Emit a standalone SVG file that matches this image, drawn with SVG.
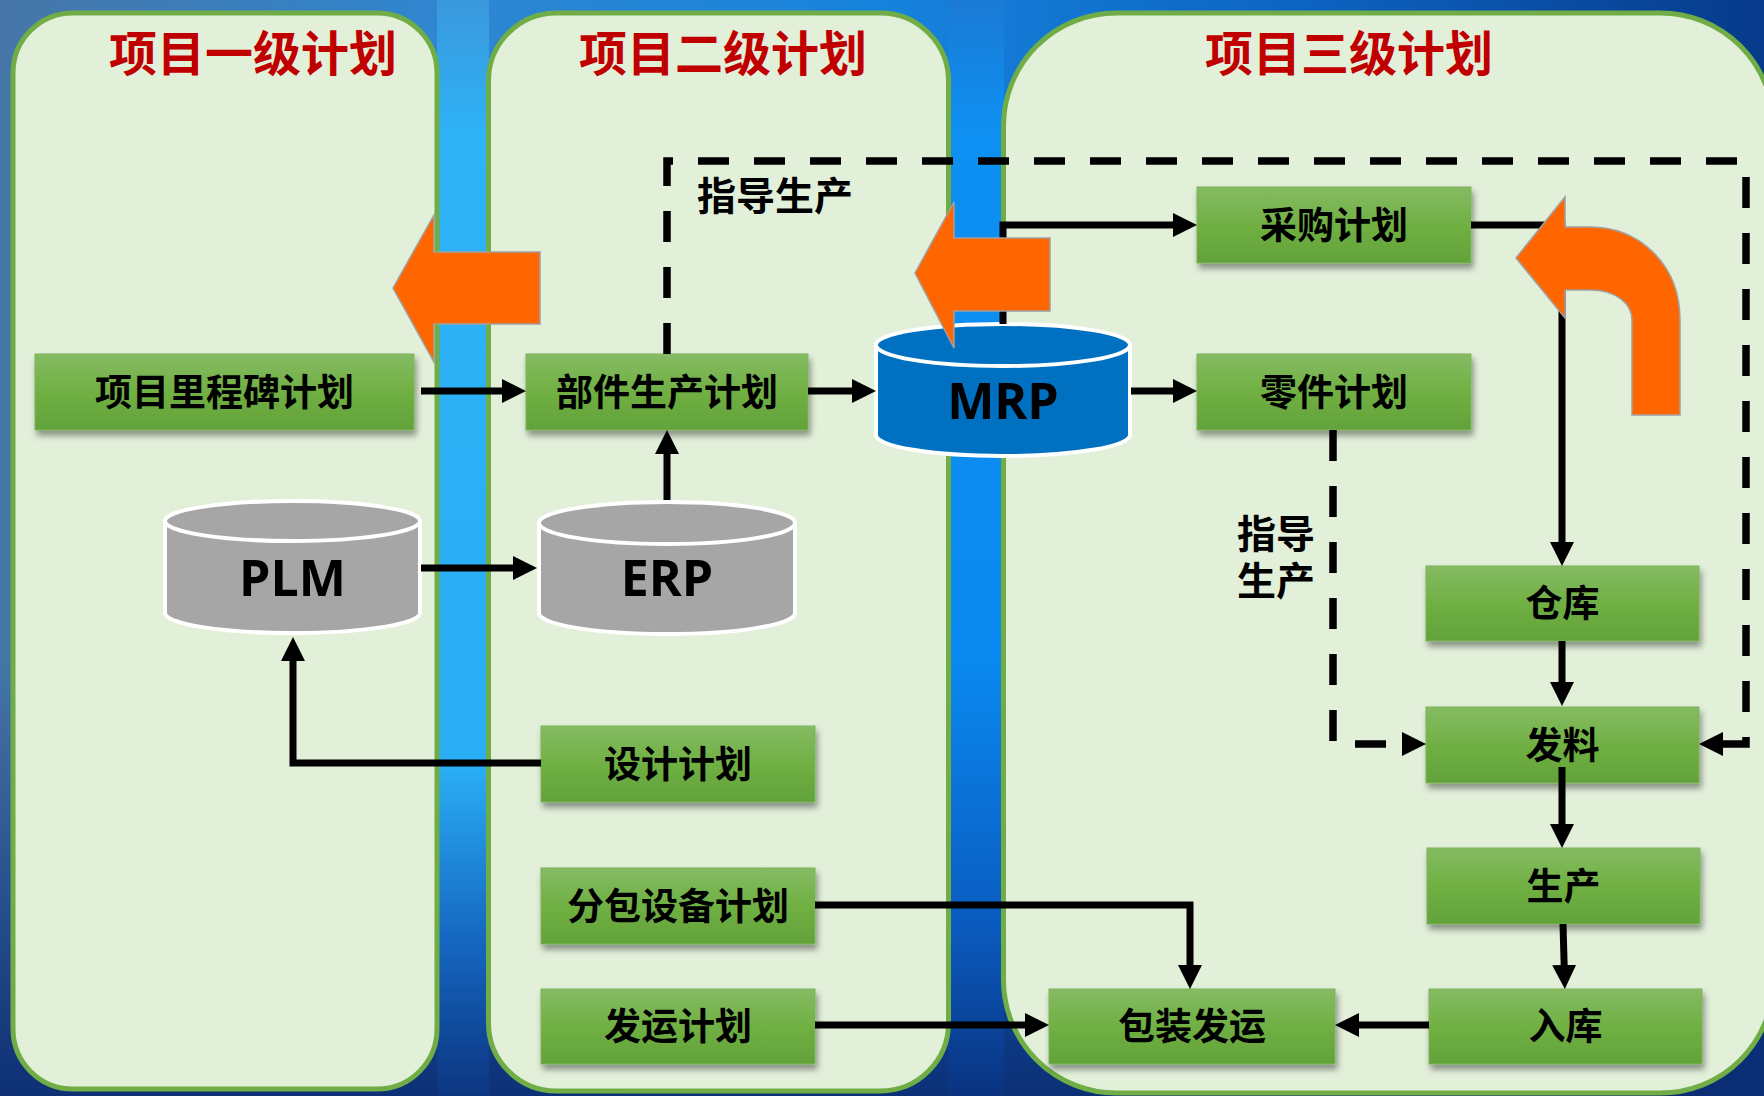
<svg xmlns="http://www.w3.org/2000/svg" width="1764" height="1096" viewBox="0 0 1764 1096">
<defs>
  <linearGradient id="bgH" x1="0" y1="0" x2="1" y2="0">
    <stop offset="0" stop-color="#4676a8"/>
    <stop offset="0.25" stop-color="#2f86d0"/>
    <stop offset="0.5" stop-color="#1683dd"/>
    <stop offset="0.75" stop-color="#0c62c0"/>
    <stop offset="1" stop-color="#073a8a"/>
  </linearGradient>
  <linearGradient id="bgV" x1="0" y1="0" x2="0" y2="1">
    <stop offset="0" stop-color="#0b2c72" stop-opacity="0"/>
    <stop offset="0.6" stop-color="#0b2c72" stop-opacity="0"/>
    <stop offset="1" stop-color="#0b2c72" stop-opacity="0.95"/>
  </linearGradient>
  <linearGradient id="gap1" x1="0" y1="0" x2="0" y2="1">
    <stop offset="0" stop-color="#3a98dc"/>
    <stop offset="0.12" stop-color="#2fb2f6"/>
    <stop offset="0.7" stop-color="#2aaef4"/>
    <stop offset="0.86" stop-color="#1566c0"/>
    <stop offset="1" stop-color="#0c3580"/>
  </linearGradient>
  <linearGradient id="gap2" x1="0" y1="0" x2="0" y2="1">
    <stop offset="0" stop-color="#1a7ad5"/>
    <stop offset="0.12" stop-color="#0e90f2"/>
    <stop offset="0.6" stop-color="#0a8af0"/>
    <stop offset="0.84" stop-color="#0a5cc0"/>
    <stop offset="1" stop-color="#0a3380"/>
  </linearGradient>
  <linearGradient id="boxG" x1="0" y1="0" x2="0" y2="1">
    <stop offset="0" stop-color="#85bb63"/>
    <stop offset="0.5" stop-color="#70b043"/>
    <stop offset="1" stop-color="#62a23a"/>
  </linearGradient>
  <filter id="sh" x="-10%" y="-20%" width="125%" height="150%">
    <feDropShadow dx="2" dy="5" stdDeviation="3" flood-color="#000" flood-opacity="0.4"/>
  </filter>
  <marker id="ah" viewBox="0 0 24 24" refX="12" refY="12" markerWidth="24" markerHeight="24" markerUnits="userSpaceOnUse" orient="auto">
    <path d="M0,0 L24,12 L0,24 z" fill="#000"/>
  </marker>
  <style>
    .panel { fill: #e2efd9; stroke: #70ad47; stroke-width: 5; }
    .title { font-family: "Noto Sans CJK SC", "Noto Sans", sans-serif; font-size: 48px; font-weight: 700; fill: #c00000; text-anchor: middle; dominant-baseline: central; }
    .box { fill: url(#boxG); stroke: #7db35a; stroke-width: 1; filter: url(#sh); }
    .bt { font-family: "Noto Sans CJK SC", "Noto Sans", sans-serif; font-size: 37px; font-weight: 700; fill: #000; text-anchor: middle; dominant-baseline: central; }
    .lbl { font-family: "Noto Sans CJK SC", "Noto Sans", sans-serif; font-size: 39px; font-weight: 700; fill: #000; }
    .cylG { fill: #a6a6a6; stroke: #fff; stroke-width: 4; }
    .cylB { fill: #0070c0; stroke: #fff; stroke-width: 4; }
    .ct { font-family: "Open Sans", "Liberation Sans", sans-serif; font-size: 50px; font-weight: 700; fill: #000; text-anchor: middle; }
    .ln { fill: none; stroke: #000; stroke-width: 7; marker-end: url(#ah); }
    .dl { fill: none; stroke: #000; stroke-width: 7.5; stroke-dasharray: 31 25; marker-end: url(#ah); }
    .big { fill: #ff6600; stroke: #a0a0a0; stroke-width: 1.5; }
  </style>
</defs>

<g id="background">
  <rect x="0" y="0" width="1764" height="1096" fill="url(#bgH)"/>
  <rect x="0" y="0" width="1764" height="1096" fill="url(#bgV)"/>
  <rect x="437" y="0" width="52" height="1096" fill="url(#gap1)"/>
  <rect x="948" y="0" width="56" height="1096" fill="url(#gap2)"/>
</g>

<g id="panels">
  <rect id="panel1" class="panel" x="13" y="13" width="424" height="1076" rx="60" ry="60"/>
  <rect id="panel2" class="panel" x="488.5" y="13" width="460" height="1078" rx="68" ry="68"/>
  <rect id="panel3" class="panel" x="1003.5" y="13" width="770" height="1080" rx="113" ry="113"/>
  <text class="title" x="253" y="50">项目一级计划</text>
  <text class="title" x="723" y="50">项目二级计划</text>
  <text class="title" x="1349" y="50">项目三级计划</text>
</g>

<g id="node-milestone"><rect class="box" x="35" y="354" width="379" height="76"/><text class="bt" x="224.5" y="390">项目里程碑计划</text></g>
<g id="node-part-prod"><rect class="box" x="526" y="354" width="282" height="76"/><text class="bt" x="667" y="390">部件生产计划</text></g>
<g id="node-purchase"><rect class="box" x="1197" y="187" width="274" height="76"/><text class="bt" x="1334" y="223">采购计划</text></g>
<g id="node-parts"><rect class="box" x="1197" y="354" width="274" height="76"/><text class="bt" x="1334" y="390">零件计划</text></g>
<g id="node-warehouse"><rect class="box" x="1426" y="566" width="273" height="75"/><text class="bt" x="1562.5" y="601">仓库</text></g>
<g id="node-issue"><rect class="box" x="1426" y="707" width="273" height="76"/><text class="bt" x="1562.5" y="743">发料</text></g>
<g id="node-production"><rect class="box" x="1427" y="848" width="273" height="76"/><text class="bt" x="1563.5" y="884">生产</text></g>
<g id="node-stockin"><rect class="box" x="1429" y="989" width="273" height="75"/><text class="bt" x="1565.5" y="1024">入库</text></g>
<g id="node-pack"><rect class="box" x="1049" y="989" width="286" height="75"/><text class="bt" x="1192" y="1024">包装发运</text></g>
<g id="node-design"><rect class="box" x="541" y="726" width="274" height="76"/><text class="bt" x="678" y="762">设计计划</text></g>
<g id="node-subcontract"><rect class="box" x="541" y="868" width="274" height="76"/><text class="bt" x="678" y="904">分包设备计划</text></g>
<g id="node-ship"><rect class="box" x="541" y="989" width="274" height="75"/><text class="bt" x="678" y="1024">发运计划</text></g>

<g id="node-plm">
  <path class="cylG" d="M165,521 V613 A127.5,20 0 0 0 420,613 V521 Z"/>
  <ellipse class="cylG" cx="292.5" cy="521" rx="127.5" ry="20"/>
  <text class="ct" x="292.5" y="596">PLM</text>
</g>
<g id="node-erp">
  <path class="cylG" d="M539,523 V613 A128,21 0 0 0 795,613 V523 Z"/>
  <ellipse class="cylG" cx="667" cy="523" rx="128" ry="21"/>
  <text class="ct" x="667" y="596">ERP</text>
</g>
<g id="node-mrp">
  <path class="cylB" d="M876,345 V435 A127,21 0 0 0 1130,435 V345 Z"/>
  <ellipse class="cylB" cx="1003" cy="345" rx="127" ry="21"/>
  <text class="ct" x="1003" y="419" font-size="48">MRP</text>
</g>

<g id="connectors">
  <path class="ln" d="M421,391 H514"/>
  <path class="ln" d="M808,391 H864"/>
  <path class="ln" d="M1131,391 H1185"/>
  <path class="ln" d="M1003,324 V225 H1185"/>
  <path class="ln" d="M1471,225 H1562 V554"/>
  <path class="ln" d="M1562,641 V694"/>
  <path class="ln" d="M1562,767 V836"/>
  <path class="ln" d="M1563,924 L1564.5,977"/>
  <path class="ln" d="M1429,1025 H1347"/>
  <path class="ln" d="M815,1025 H1037"/>
  <path class="ln" d="M815,905 H1190 V977"/>
  <path class="ln" d="M541,763 H293 V649"/>
  <path class="ln" d="M421,568 H525"/>
  <path class="ln" d="M667,500 V442"/>
  <path class="dl" d="M667,354 V161 H1746 V744 H1711"/>
  <path class="dl" d="M1333,430 V744 H1414"/>
</g>

<g id="big-arrows">
  <path class="big" d="M393,288 L434,215 L434,252 L540,252 L540,324 L434,324 L434,362 Z"/>
  <path class="big" d="M915,273 L954,202 L954,238 L1050,238 L1050,311 L954,311 L954,348 Z"/>
  <path class="big" d="M1516,258 L1565,197 L1565,227 L1590,227 C1640,227 1680,265 1680,320 L1680,415 L1632,415 L1632,320 C1632,303 1615,290 1590,290 L1565,290 L1565,318 Z"/>
</g>

<g id="labels">
  <text class="lbl" x="697" y="210">指导生产</text>
  <text class="lbl" font-size="38"><tspan x="1237" y="548">指导</tspan><tspan x="1237" y="595">生产</tspan></text>
</g>
</svg>
